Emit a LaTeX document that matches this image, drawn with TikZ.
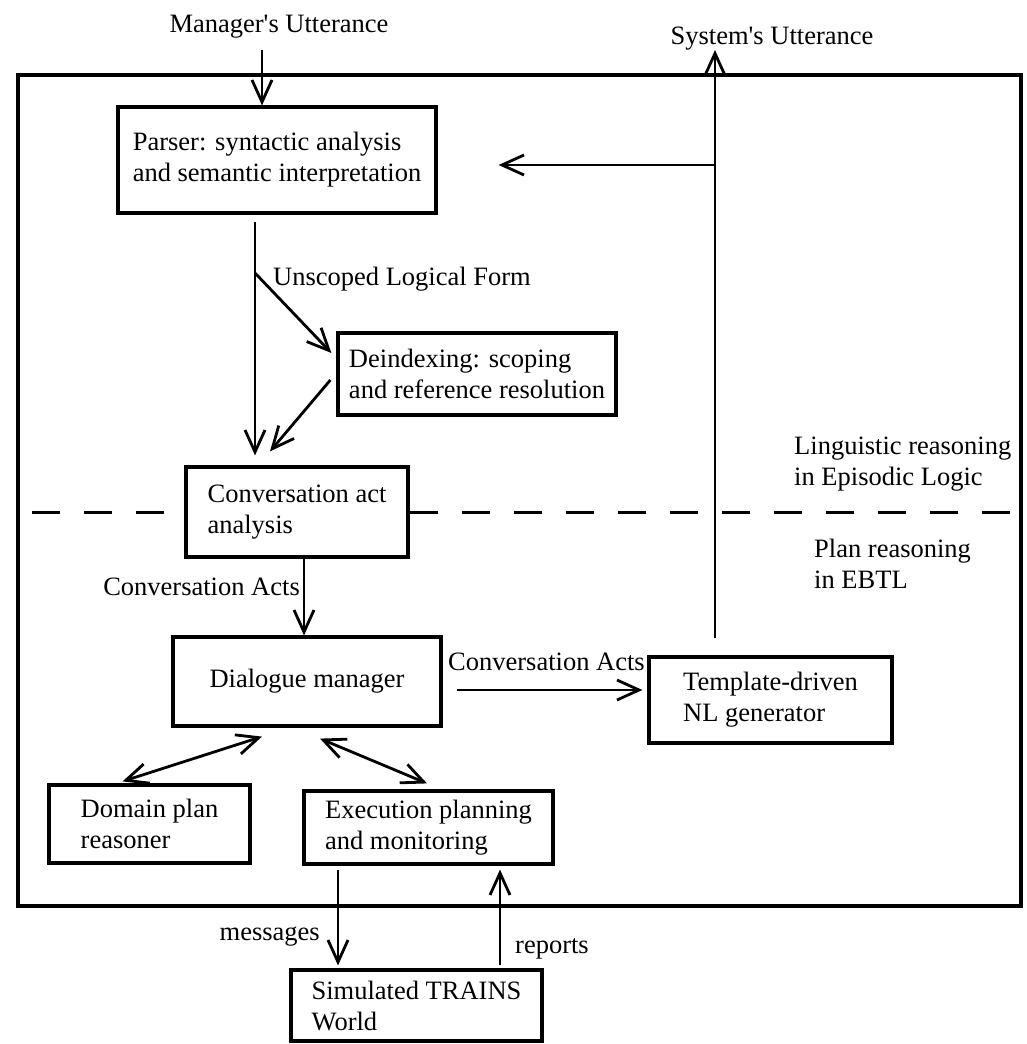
\documentclass[tikz,border=0pt]{standalone}
\usepackage{fontspec}
\setmainfont{Liberation Serif}
\usetikzlibrary{arrows.meta}
\begin{document}
\begin{tikzpicture}[x=1pt,y=-1pt,
  txt/.style={font=\fontsize{26.5}{31}\selectfont, inner sep=0pt},
  box/.style={txt, draw, line width=3.2pt, align=left},
  arr/.style={line width=2.8pt, -{Straight Barb[length=22pt,width=20pt]}},
  darr/.style={line width=2.8pt, {Straight Barb[length=22pt,width=20pt]}-{Straight Barb[length=22pt,width=20pt]}},
  dsh/.style={line width=3pt, dash pattern=on 28pt off 24pt},
]
\useasboundingbox (0,0) rectangle (1026,1044);

% outer frame
\node[draw, line width=3.4pt, minimum width=1003pt, minimum height=831pt, inner sep=0pt] (frame) at (519.5,490.5) {};

% boxes
\node[box, minimum width=318pt, minimum height=106pt] (parser) at (277,160) {Parser: syntactic analysis\\and semantic interpretation};
\node[box, minimum width=278pt, minimum height=82pt] (deind) at (477,374) {Deindexing: scoping\\and reference resolution};
\node[box, minimum width=222pt, minimum height=90pt] (conv) at (297,512) {Conversation act\\analysis};
\node[box, minimum width=268pt, minimum height=89pt] (dlg) at (307,681.5) {Dialogue manager};
\node[box, minimum width=243pt, minimum height=86pt] (gen) at (770.5,700) {Template-driven\\NL generator};
\node[box, minimum width=201pt, minimum height=78pt] (dom) at (149.5,824) {Domain plan\\reasoner};
\node[box, minimum width=249pt, minimum height=73pt] (exe) at (428.5,827.5) {Execution planning\\and monitoring};
\node[box, minimum width=251pt, minimum height=71pt] (sim) at (416.5,1005.5) {Simulated TRAINS\\World};

% labels
\node[txt, anchor=base] (mu) at (279,32) {Manager\textquotesingle s Utterance};
\node[txt, anchor=base] (su) at (772,44) {System\textquotesingle s Utterance};
\node[txt, anchor=base west] (ulf) at (273,285) {Unscoped Logical Form};
\node[txt, anchor=west, align=left] (ling) at (794,464) {Linguistic reasoning\\in Episodic Logic};
\node[txt, anchor=west, align=left] (plan) at (814,564) {Plan reasoning\\in EBTL};
\node[txt, anchor=base east] (ca1) at (300,595) {Conversation Acts};
\node[txt, anchor=base west] (ca2) at (448,670) {Conversation Acts};
\node[txt, anchor=base east] (msg) at (320,940) {messages};
\node[txt, anchor=base west] (rep) at (515,953) {reports};

% dashed separator
\coordinate (dl) at (32,512);
\coordinate (dr) at (1010,512);
\draw[dsh] (dl) -- (conv.west);
\draw[dsh] (conv.east) -- (dr);

% coordinates
\coordinate (muA) at (262,50);
\coordinate (sysTop) at (715,50);
\coordinate (sysBr) at (715,165);
\coordinate (px) at (255,0);
\coordinate (pB) at (255,273);
\coordinate (cx) at (304,0);
\coordinate (cy) at (0,690);
\coordinate (mx) at (338,0);
\coordinate (rx) at (500,0);

% connectors
\draw[arr] (muA) -- (muA |- parser.north);
\draw[arr] ([shift={(-55.5,-17)}]gen.north) -- (sysTop);
\draw[arr, shorten >=61pt] (sysBr) -- (sysBr -| parser.east);
\draw[arr, shorten <=7pt, shorten >=10pt] (parser.south -| px) -- (conv.north -| px);
\draw[arr] (pB) -- ([shift={(-5,-21)}]deind.west);
\draw[arr] ([shift={(-6,6)}]deind.west) -- ([shift={(-27,-14)}]conv.north);
\draw[arr] (conv.south -| cx) -- (dlg.north -| cx);
\draw[arr, shorten <=14pt, shorten >=5pt] (dlg.east |- cy) -- (gen.west |- cy);
\draw[darr] ([shift={(-45,9)}]dlg.south) -- ([shift={(-27,-2)}]dom.north);
\draw[darr] ([shift={(13,11)}]dlg.south) -- ([shift={(-1.5,-6)}]exe.north);
\draw[arr, shorten <=4pt, shorten >=3pt] (exe.south -| mx) -- (sim.north -| mx);
\draw[arr, shorten <=3pt, shorten >=4pt] (sim.north -| rx) -- (exe.south -| rx);
\end{tikzpicture}
\end{document}
